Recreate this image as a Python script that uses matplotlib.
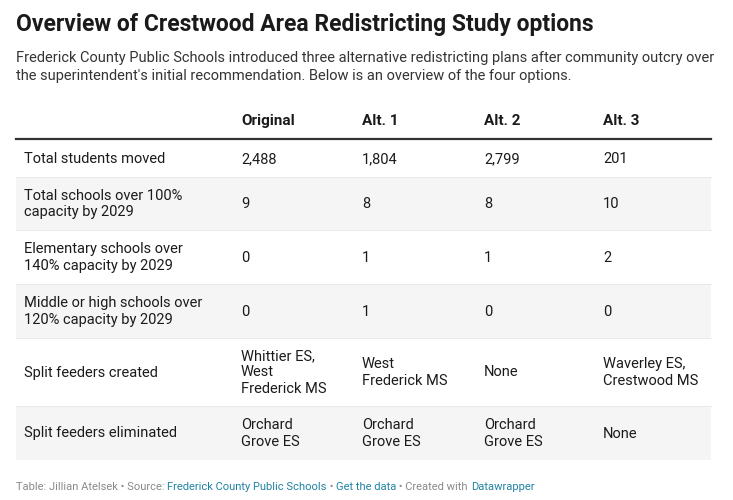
import matplotlib
matplotlib.use("Agg")
import matplotlib.pyplot as plt
from matplotlib.patches import Rectangle

columns = ["Original", "Alt. 1", "Alt. 2", "Alt. 3"]
row_labels = ["Total students moved", "Total schools over 100%\ncapacity by 2029",
              "Elementary schools over\n140% capacity by 2029",
              "Middle or high schools over\n120% capacity by 2029",
              "Split feeders created", "Split feeders eliminated"]
original = ["2,488", "9", "0", "0", "Whittier ES,\nWest\nFrederick MS", "Orchard\nGrove ES"]
alt1 = ["1,804", "8", "1", "1", "West\nFrederick MS", "Orchard\nGrove ES"]
alt2 = ["2,799", "8", "1", "0", "None", "Orchard\nGrove ES"]
alt3 = ["201", "10", "2", "0", "Waverley ES,\nCrestwood MS", "None"]

W, H = 733, 500
fig = plt.figure(figsize=(W/100, H/100), dpi=100)
ax = fig.add_axes([0, 0, 1, 1])
ax.set_xlim(0, W); ax.set_ylim(H, 0); ax.axis("off")
F = "Roboto"
ax.text(16, 25, "Overview of Crestwood Area Redistricting Study options", fontsize=16.5,
        fontweight="bold", family=F, va="center", color="#1a1a1a")
ax.text(16, 67, "Frederick County Public Schools introduced three alternative redistricting plans after community outcry over\n"
        "the superintendent's initial recommendation. Below is an overview of the four options.",
        fontsize=10.5, family=F, va="center", color="#333333", linespacing=1.3)
colx = [241, 362, 484, 603]
for x, c in zip(colx, columns):
    ax.text(x, 121, c, fontsize=11, fontweight="bold", family=F, va="center", color="#1a1a1a")
ax.plot([16, 711], [139, 139], color="#333333", lw=1.6)
bounds = [140, 177, 230, 284, 338, 406, 460]
cols = [original, alt1, alt2, alt3]
for i, lab in enumerate(row_labels):
    y0, y1 = bounds[i], bounds[i+1]
    if i % 2 == 1:
        ax.add_patch(Rectangle((16, y0), 695, y1-y0, color="#f5f5f5", lw=0))
    else:
        pass
    yc = (y0 + y1) / 2 + 0.5
    ax.text(24, yc, lab, fontsize=10.5, family=F, va="center", color="#1a1a1a", linespacing=1.2)
    for x, col in zip(colx, cols):
        ax.text(x, yc, col[i], fontsize=10.5, family=F, va="center", color="#1a1a1a", linespacing=1.2)
for b in bounds[1:-1]:
    ax.plot([16, 711], [b, b], color="#e6e6e6", lw=0.6)
parts = [("Table: Jillian Atelsek • Source: ", "#888888"), ("Frederick County Public Schools", "#1d81a2"),
         (" • ", "#888888"), ("Get the data", "#1d81a2"), (" • Created with ", "#888888"), ("Datawrapper", "#1d81a2")]
r = fig.canvas.get_renderer()
x = 16
for t, c in parts:
    tx = ax.text(x, 487, t, fontsize=8, family=F, va="center", color=c)
    bb = tx.get_window_extent(r)
    x += bb.width
fig.savefig("out.png", dpi=100)
